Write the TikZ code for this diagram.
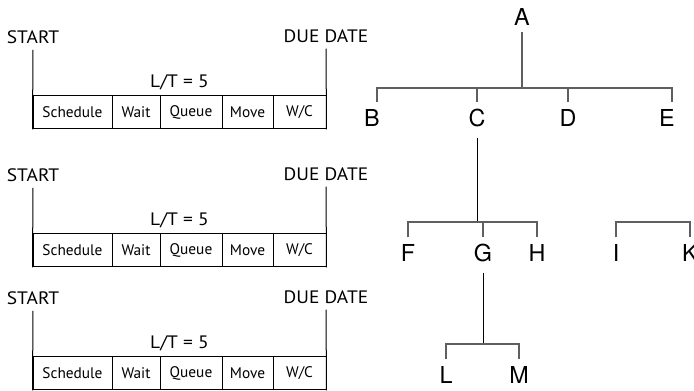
\documentclass[tikz,border=0pt]{standalone}
\usepackage{fontspec}
\setmainfont{PT Sans}
\newfontfamily\lblfont[FakeStretch=1.08]{PT Sans}
\newfontfamily\treefont{TeX Gyre Heros}
\definecolor{tgray}{RGB}{95,95,95}
\begin{document}
\begin{tikzpicture}[x=0.75pt,y=-0.75pt,
  lbl/.style={font=\lblfont\fontsize{13.5}{15}\selectfont, inner sep=0pt},
  cell/.style={draw, line width=0.75pt, minimum height=24.75pt, inner sep=0pt,
    font=\fontsize{11.5}{13}\selectfont},
  frame/.style={line width=0.75pt},
  tnode/.style={font=\treefont\fontsize{17.5}{20}\selectfont, inner sep=0pt, outer sep=5.25pt},
  tline/.style={line width=0.8pt, draw=tgray},
  tlong/.style={line width=0.75pt, draw=black}]
\useasboundingbox (0,0) rectangle (694,391);

% ---------- lead-time blocks ----------
\foreach \dy [count=\n] in {0,138,261} {
  \node[lbl] (start\n) at (33,37+\dy) {START};
  \node[lbl] (due\n) at (326,36+\dy) {DUE DATE};
  \node[lbl] (lt\n) at (179.5,82+\dy) {L/T = 5};
  \node[cell, minimum width=59.25pt] (sch\n) at (72.5,112.5+\dy) {Schedule};
  \node[cell, minimum width=36pt] (wait\n) at (136,112.5+\dy) {Wait};
  \node[cell, minimum width=46.5pt] (que\n) at (191,112.5+\dy) {Queue};
  \node[cell, minimum width=38.25pt] (mov\n) at (247.5,112.5+\dy) {Move};
  \node[cell, minimum width=39.75pt] (wc\n) at (299.5,112.5+\dy) {W/C};
  \draw[frame] ([yshift=-4.5pt]start\n.south) -- (sch\n.south west);
  \draw[frame] ([yshift=-4.5pt]due\n.south) -- (wc\n.south east);
}

% ---------- product tree ----------
\node[tnode] (A) at (522,17) {A};
\node[tnode] (B) at (372,118) {B};
\node[tnode] (C) at (477,118) {C};
\node[tnode] (D) at (568,118) {D};
\node[tnode] (E) at (667,118) {E};
\node[tnode] (F) at (408,253) {F};
\node[tnode] (G) at (483,253) {G};
\node[tnode] (H) at (537,253) {H};
\node[tnode] (I) at (616,253) {I};
\node[tnode] (K) at (690,253) {K};
\node[tnode] (L) at (446,375) {L};
\node[tnode] (M) at (519,375) {M};

\coordinate (jA) at (522,88);
\coordinate (jC) at (477,222);
\coordinate (jI) at (650,222);
\coordinate (jG) at (483,344);

\draw[tline] (A.south) -- (jA);
\draw[tline] ([xshift=3.75pt]B.north) |- (jA) -| ([xshift=3.75pt]E.north);
\draw[tline] (C.north) -- (C.north |- jA);
\draw[tline] (D.north) -- (D.north |- jA);

\draw[tlong] ([yshift=-3pt]C.south) -- (jC);
\draw[tline] (F.north) |- (jC) -| (H.north);
\draw[tline] (G.north) -- (G.north |- jC);

\draw[tline] (I.north) |- (jI) -| (K.north);

\draw[tlong] ([yshift=-3pt]G.south) -- (jG);
\draw[tline] (L.north) |- (jG) -| (M.north);
\end{tikzpicture}
\end{document}
